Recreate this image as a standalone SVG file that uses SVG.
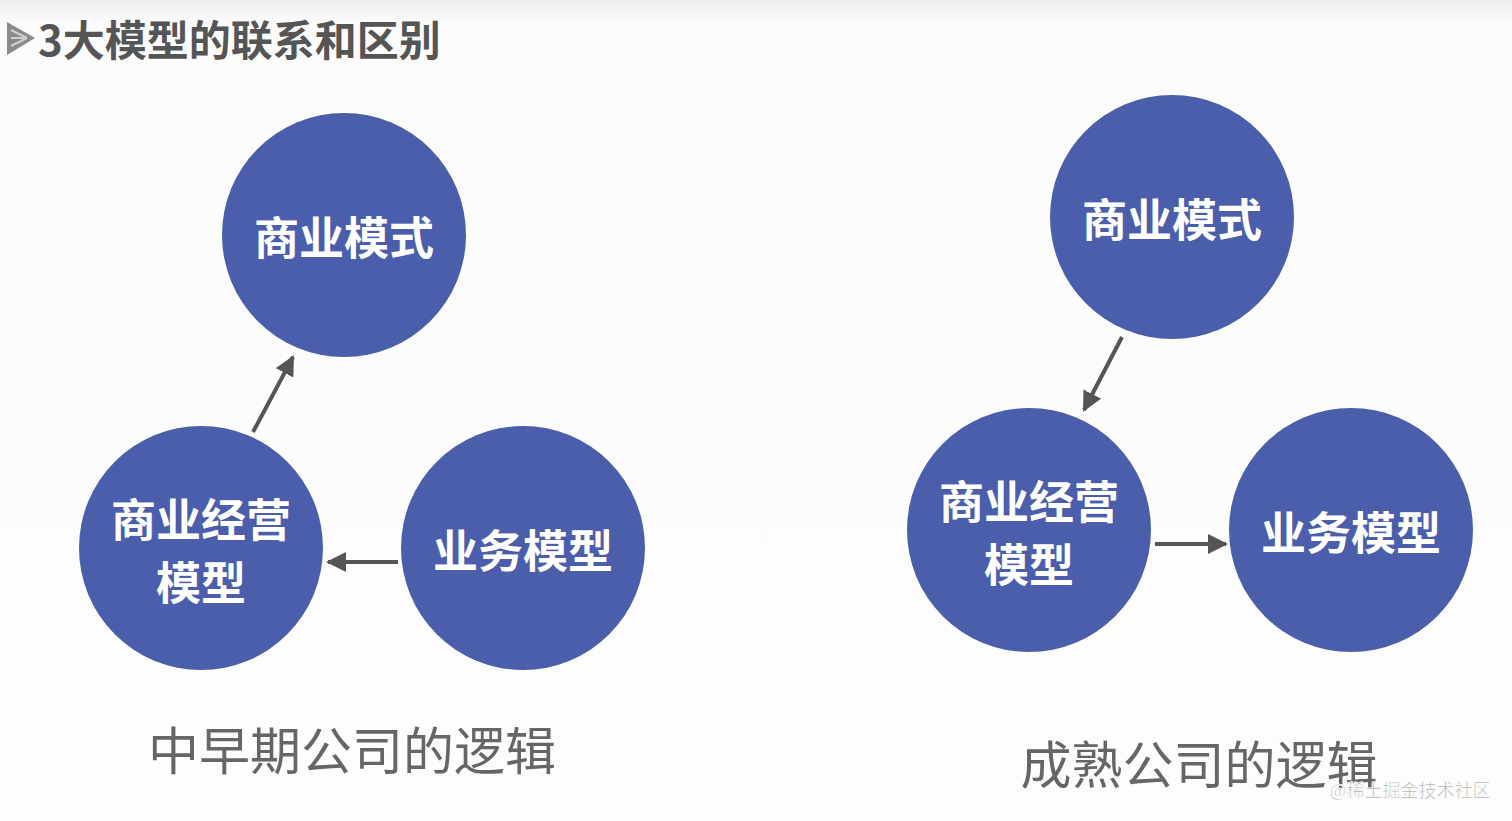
<svg xmlns="http://www.w3.org/2000/svg" width="1512" height="821" viewBox="0 0 1512 821">
<defs>
<linearGradient id="bg" x1="0" y1="0" x2="0" y2="1">
<stop offset="0" stop-color="#efefef"/>
<stop offset="0.03" stop-color="#fcfcfc"/>
<stop offset="1" stop-color="#fdfdfd"/>
</linearGradient>
<marker id="ah" viewBox="0 0 10 10" refX="9" refY="5" markerWidth="5" markerHeight="5" markerUnits="strokeWidth" orient="auto">
<path d="M0,0 L10,5 L0,10 z" fill="#555"/>
</marker>
<style>
.c{fill:#4a5eab}
.t{font-family:"Noto Sans CJK SC","Noto Sans",sans-serif;font-weight:bold;font-size:45px;fill:#fff;text-anchor:middle;dominant-baseline:central}
.l{font-family:"Noto Sans CJK SC","Noto Sans",sans-serif;font-size:51px;fill:#666;text-anchor:middle;dominant-baseline:central}
.a{stroke:#555;stroke-width:4;fill:none;marker-end:url(#ah)}
</style>
</defs>
<rect width="1512" height="821" fill="url(#bg)"/>
<g id="title">
<path d="M7,22 L35,38 L7,55 z" fill="#8a8a8a"/>
<path d="M11,30 L27,38 M11,38 L27,38 M11,46 L27,38" stroke="#d0d0d0" stroke-width="2"/>
<text x="38" y="37" font-family="'Noto Sans CJK SC','Noto Sans',sans-serif" font-weight="bold" font-size="42" fill="#555" dominant-baseline="central">3大模型的联系和区别</text>
</g>
<g id="connectors">
<line class="a" x1="253" y1="432" x2="293" y2="357"/>
<line class="a" x1="398" y1="562" x2="328" y2="562"/>
<line class="a" x1="1122" y1="337" x2="1084" y2="410"/>
<line class="a" x1="1155" y1="544" x2="1226" y2="544"/>
</g>
<g id="L-business-model">
<circle class="c" cx="344" cy="235" r="122"/>
<text class="t" x="344" y="235">商业模式</text>
</g>
<g id="L-operation-model">
<circle class="c" cx="201" cy="548" r="122"/>
<text class="t" x="201" y="517">商业经营</text>
<text class="t" x="201" y="580">模型</text>
</g>
<g id="L-service-model">
<circle class="c" cx="523" cy="548" r="122"/>
<text class="t" x="523" y="548">业务模型</text>
</g>
<g id="R-business-model">
<circle class="c" cx="1172" cy="217" r="122"/>
<text class="t" x="1172" y="217">商业模式</text>
</g>
<g id="R-operation-model">
<circle class="c" cx="1029" cy="530" r="122"/>
<text class="t" x="1029" y="499">商业经营</text>
<text class="t" x="1029" y="562">模型</text>
</g>
<g id="R-service-model">
<circle class="c" cx="1351" cy="530" r="122"/>
<text class="t" x="1351" y="530">业务模型</text>
</g>
<g id="labels">
<text class="l" x="352" y="748">中早期公司的逻辑</text>
<text class="l" x="1199" y="762">成熟公司的逻辑</text>
</g>
<text x="1410" y="789" font-family="'Noto Sans CJK SC','Noto Sans',sans-serif" font-size="18" fill="#aaa" stroke="#fff" stroke-width="0.6" text-anchor="middle" dominant-baseline="central">@稀土掘金技术社区</text>
</svg>
